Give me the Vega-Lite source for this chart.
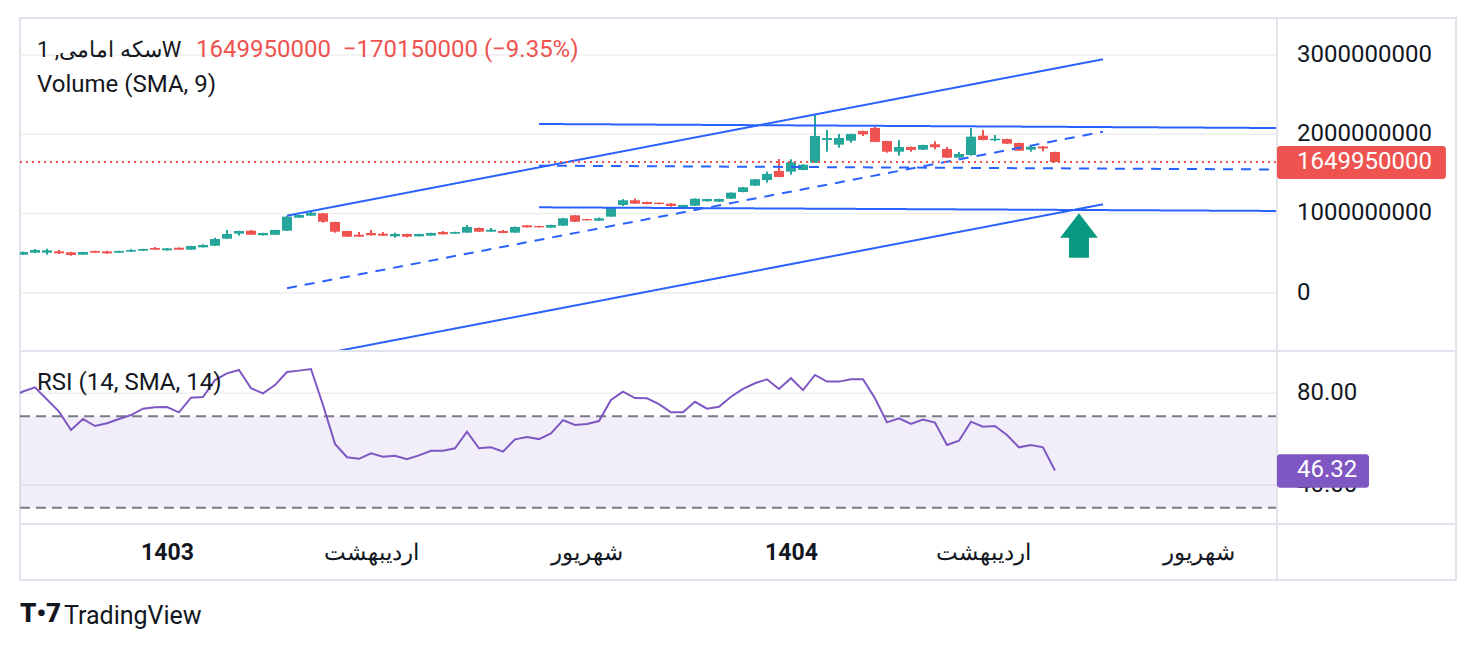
{
  "$schema": "https://vega.github.io/schema/vega-lite/v6.json",
  "background": "white",
  "padding": {"left": 18, "top": 16, "right": 20, "bottom": 20},
  "title": {"text": "TradingView", "orient": "bottom", "anchor": "start", "dx": 46, "offset": -24, "fontSize": 25, "fontWeight": "normal", "color": "#131722", "font": "Roboto"},
  "spacing": 0,
  "bounds": "flush",
  "resolve": {"scale": {"x": "independent", "y": "independent"}},
  "datasets": {
    "priceTicks": [{"v": 0}, {"v": 1000000000}, {"v": 2000000000}, {"v": 3000000000}],
    "rsiTicks": [{"v": 40}, {"v": 80}],
    "candles": [
      {"w":-12,"o":480000000,"h":520000000,"l":476000000,"c":514000000},
      {"w":-11,"o":505000000,"h":552000000,"l":500000000,"c":539000000},
      {"w":-10,"o":505000000,"h":555000000,"l":480000000,"c":535000000},
      {"w":-9,"o":522000000,"h":539000000,"l":489000000,"c":497000000},
      {"w":-8,"o":510000000,"h":515000000,"l":467000000,"c":476000000},
      {"w":-7,"o":480000000,"h":516000000,"l":478000000,"c":514000000},
      {"w":-6,"o":527000000,"h":530000000,"l":503000000,"c":505000000},
      {"w":-5,"o":522000000,"h":530000000,"l":489000000,"c":497000000},
      {"w":-4,"o":505000000,"h":530000000,"l":503000000,"c":527000000},
      {"w":-3,"o":518000000,"h":552000000,"l":516000000,"c":539000000},
      {"w":-2,"o":530000000,"h":555000000,"l":528000000,"c":552000000},
      {"w":-1,"o":564000000,"h":577000000,"l":541000000,"c":543000000},
      {"w":0,"o":535000000,"h":564000000,"l":532000000,"c":560000000},
      {"w":1,"o":568000000,"h":570000000,"l":541000000,"c":543000000},
      {"w":2,"o":543000000,"h":592000000,"l":541000000,"c":590000000},
      {"w":3,"o":573000000,"h":611000000,"l":571000000,"c":602000000},
      {"w":4,"o":593000000,"h":694000000,"l":590000000,"c":678000000},
      {"w":5,"o":682000000,"h":792000000,"l":680000000,"c":741000000},
      {"w":6,"o":745000000,"h":782000000,"l":720000000,"c":779000000},
      {"w":7,"o":783000000,"h":792000000,"l":730000000,"c":732000000},
      {"w":8,"o":725000000,"h":757000000,"l":722000000,"c":754000000},
      {"w":9,"o":732000000,"h":795000000,"l":730000000,"c":792000000},
      {"w":10,"o":783000000,"h":965000000,"l":780000000,"c":960000000},
      {"w":11,"o":947000000,"h":985000000,"l":945000000,"c":981000000},
      {"w":12,"o":972000000,"h":1023000000,"l":970000000,"c":1010000000},
      {"w":13,"o":1002000000,"h":1005000000,"l":884000000,"c":896000000},
      {"w":14,"o":893000000,"h":895000000,"l":758000000,"c":770000000},
      {"w":15,"o":779000000,"h":782000000,"l":705000000,"c":707000000},
      {"w":16,"o":732000000,"h":766000000,"l":705000000,"c":707000000},
      {"w":17,"o":754000000,"h":792000000,"l":722000000,"c":725000000},
      {"w":18,"o":745000000,"h":766000000,"l":718000000,"c":720000000},
      {"w":19,"o":712000000,"h":758000000,"l":694000000,"c":741000000},
      {"w":20,"o":741000000,"h":745000000,"l":699000000,"c":707000000},
      {"w":21,"o":712000000,"h":745000000,"l":710000000,"c":741000000},
      {"w":22,"o":720000000,"h":757000000,"l":718000000,"c":754000000},
      {"w":23,"o":766000000,"h":779000000,"l":735000000,"c":737000000},
      {"w":24,"o":745000000,"h":770000000,"l":743000000,"c":766000000},
      {"w":25,"o":758000000,"h":855000000,"l":756000000,"c":830000000},
      {"w":26,"o":817000000,"h":822000000,"l":768000000,"c":770000000},
      {"w":27,"o":770000000,"h":817000000,"l":768000000,"c":795000000},
      {"w":28,"o":779000000,"h":792000000,"l":752000000,"c":754000000},
      {"w":29,"o":758000000,"h":835000000,"l":756000000,"c":830000000},
      {"w":30,"o":851000000,"h":855000000,"l":822000000,"c":826000000},
      {"w":31,"o":842000000,"h":845000000,"l":822000000,"c":826000000},
      {"w":32,"o":821000000,"h":858000000,"l":819000000,"c":855000000},
      {"w":33,"o":846000000,"h":945000000,"l":843000000,"c":939000000},
      {"w":34,"o":977000000,"h":980000000,"l":893000000,"c":896000000},
      {"w":35,"o":930000000,"h":932000000,"l":912000000,"c":914000000},
      {"w":36,"o":909000000,"h":950000000,"l":905000000,"c":939000000},
      {"w":37,"o":960000000,"h":1072000000,"l":958000000,"c":1069000000},
      {"w":38,"o":1107000000,"h":1181000000,"l":1094000000,"c":1167000000},
      {"w":39,"o":1167000000,"h":1189000000,"l":1120000000,"c":1124000000},
      {"w":40,"o":1145000000,"h":1150000000,"l":1117000000,"c":1120000000},
      {"w":41,"o":1136000000,"h":1140000000,"l":1115000000,"c":1120000000},
      {"w":42,"o":1124000000,"h":1132000000,"l":1086000000,"c":1095000000},
      {"w":43,"o":1078000000,"h":1110000000,"l":1075000000,"c":1107000000},
      {"w":44,"o":1098000000,"h":1190000000,"l":1095000000,"c":1187000000},
      {"w":45,"o":1154000000,"h":1186000000,"l":1151000000,"c":1183000000},
      {"w":46,"o":1149000000,"h":1186000000,"l":1146000000,"c":1183000000},
      {"w":47,"o":1187000000,"h":1266000000,"l":1184000000,"c":1263000000},
      {"w":48,"o":1271000000,"h":1335000000,"l":1268000000,"c":1331000000},
      {"w":49,"o":1351000000,"h":1436000000,"l":1348000000,"c":1432000000},
      {"w":50,"o":1423000000,"h":1528000000,"l":1389000000,"c":1499000000},
      {"w":51,"o":1537000000,"h":1688000000,"l":1458000000,"c":1461000000},
      {"w":52,"o":1528000000,"h":1684000000,"l":1490000000,"c":1646000000},
      {"w":53,"o":1549000000,"h":1625000000,"l":1545000000,"c":1616000000},
      {"w":54,"o":1641000000,"h":2244000000,"l":1638000000,"c":1979000000},
      {"w":55,"o":1928000000,"h":2054000000,"l":1780000000,"c":1953000000},
      {"w":56,"o":1869000000,"h":2004000000,"l":1831000000,"c":1953000000},
      {"w":57,"o":1919000000,"h":2008000000,"l":1894000000,"c":2004000000},
      {"w":58,"o":2042000000,"h":2046000000,"l":1978000000,"c":2000000000},
      {"w":59,"o":2080000000,"h":2096000000,"l":1900000000,"c":1903000000},
      {"w":60,"o":1915000000,"h":1918000000,"l":1768000000,"c":1780000000},
      {"w":61,"o":1780000000,"h":1928000000,"l":1730000000,"c":1840000000},
      {"w":62,"o":1840000000,"h":1845000000,"l":1780000000,"c":1802000000},
      {"w":63,"o":1806000000,"h":1869000000,"l":1802000000,"c":1865000000},
      {"w":64,"o":1874000000,"h":1912000000,"l":1810000000,"c":1836000000},
      {"w":65,"o":1814000000,"h":1840000000,"l":1700000000,"c":1705000000},
      {"w":66,"o":1705000000,"h":1776000000,"l":1700000000,"c":1751000000},
      {"w":67,"o":1738000000,"h":2080000000,"l":1730000000,"c":1970000000},
      {"w":68,"o":1982000000,"h":2054000000,"l":1924000000,"c":1928000000},
      {"w":69,"o":1924000000,"h":1991000000,"l":1912000000,"c":1944000000},
      {"w":70,"o":1940000000,"h":1944000000,"l":1878000000,"c":1881000000},
      {"w":71,"o":1890000000,"h":1894000000,"l":1790000000,"c":1793000000},
      {"w":72,"o":1806000000,"h":1865000000,"l":1780000000,"c":1843000000},
      {"w":73,"o":1845000000,"h":1850000000,"l":1785000000,"c":1820100000},
      {"w":74,"o":1776000000,"h":1780000000,"l":1645000000,"c":1649950000}
    ],
    "rsi": [
      {"w":-13,"r":78.5},{"w":-12,"r":80.8},{"w":-11,"r":82.6},{"w":-10,"r":77.3},{"w":-9,"r":72.0},
      {"w":-8,"r":64.0},{"w":-7,"r":68.8},{"w":-6,"r":65.7},{"w":-5,"r":66.9},{"w":-4,"r":68.8},
      {"w":-3,"r":70.5},{"w":-2,"r":73.3},{"w":-1,"r":73.9},{"w":0,"r":74.0},{"w":1,"r":71.7},
      {"w":2,"r":78.1},{"w":3,"r":78.4},{"w":4,"r":85.8},{"w":5,"r":88.7},{"w":6,"r":90.2},
      {"w":7,"r":82.2},{"w":8,"r":80.0},{"w":9,"r":83.6},{"w":10,"r":89.3},{"w":11,"r":89.9},
      {"w":12,"r":90.6},{"w":13,"r":74.9},{"w":14,"r":57.9},{"w":15,"r":52.1},{"w":16,"r":51.4},
      {"w":17,"r":53.8},{"w":18,"r":52.3},{"w":19,"r":52.7},{"w":20,"r":51.2},{"w":21,"r":52.9},
      {"w":22,"r":54.9},{"w":23,"r":54.9},{"w":24,"r":56.0},{"w":25,"r":63.2},{"w":26,"r":56.0},
      {"w":27,"r":56.4},{"w":28,"r":54.5},{"w":29,"r":59.9},{"w":30,"r":60.9},{"w":31,"r":60.0},
      {"w":32,"r":62.5},{"w":33,"r":68.3},{"w":34,"r":66.2},{"w":35,"r":66.6},{"w":36,"r":67.9},
      {"w":37,"r":77.1},{"w":38,"r":80.7},{"w":39,"r":77.9},{"w":40,"r":77.8},{"w":41,"r":75.3},
      {"w":42,"r":71.7},{"w":43,"r":71.7},{"w":44,"r":76.3},{"w":45,"r":73.3},{"w":46,"r":74.1},
      {"w":47,"r":78.5},{"w":48,"r":81.9},{"w":49,"r":84.4},{"w":50,"r":86.1},{"w":51,"r":81.9},
      {"w":52,"r":86.6},{"w":53,"r":81.4},{"w":54,"r":88.0},{"w":55,"r":85.1},{"w":56,"r":85.1},
      {"w":57,"r":86.1},{"w":58,"r":86.1},{"w":59,"r":77.8},{"w":60,"r":67.3},{"w":61,"r":69.1},
      {"w":62,"r":66.6},{"w":63,"r":68.5},{"w":64,"r":67.2},{"w":65,"r":57.4},{"w":66,"r":59.3},
      {"w":67,"r":67.6},{"w":68,"r":65.4},{"w":69,"r":65.7},{"w":70,"r":61.8},{"w":71,"r":56.4},
      {"w":72,"r":57.4},{"w":73,"r":56.4},{"w":74,"r":46.32}
    ],
    "channels": [
      {"id":"A","kind":"edge","w":10,"p":972000000},{"id":"A","kind":"edge","w":78,"p":2947000000},
      {"id":"E","kind":"median","w":10,"p":56500000},{"id":"E","kind":"median","w":78,"p":2031500000},
      {"id":"F","kind":"edge","w":10,"p":-859000000},{"id":"F","kind":"edge","w":78,"p":1116000000},
      {"id":"B","kind":"edge","w":31,"p":2130000000},{"id":"B","kind":"edge","w":92.5,"p":2079000000},
      {"id":"D","kind":"median","w":31,"p":1604000000},{"id":"D","kind":"median","w":92.5,"p":1555500000},
      {"id":"C","kind":"edge","w":31,"p":1078000000},{"id":"C","kind":"edge","w":92.5,"p":1032000000}
    ]
  },
  "vconcat": [
    {
      "width": 1436,
      "height": 333,
      "layer": [
        {
          "data": {"name": "priceTicks"},
          "mark": {"type": "rule", "color": "#eeeeee", "strokeWidth": 1.5},
          "encoding": {
            "x": {"datum": -12.25, "type": "quantitative",
                  "scale": {"domain": [-12.25, 107.42], "nice": false, "zero": false, "padding": 0},
                  "axis": {"values": [0, 17, 35, 52, 68, 86], "grid": true, "gridColor": "#eeeeee", "gridWidth": 1.5,
                           "labels": false, "ticks": false, "domain": false, "title": null, "minExtent": 0}},
            "x2": {"datum": 92.5},
            "y": {"field": "v", "type": "quantitative",
                  "scale": {"domain": [-736000000, 3468000000], "nice": false, "zero": false, "padding": 0},
                  "axis": null}
          }
        },
        {
          "data": {"name": "priceTicks"},
          "mark": {"type": "text", "align": "left", "baseline": "middle", "color": "#131722", "fontSize": 24, "font": "Roboto"},
          "encoding": {
            "x": {"datum": 94.17, "axis": null},
            "y": {"field": "v", "type": "quantitative", "axis": null},
            "text": {"field": "v", "type": "quantitative", "format": "d"}
          }
        },
        {
          "data": {"name": "candles"},
          "mark": {"type": "rule", "strokeWidth": 2, "clip": true},
          "encoding": {
            "x": {"field": "w", "type": "quantitative", "axis": null},
            "y": {"field": "l", "type": "quantitative", "axis": null},
            "y2": {"field": "h"},
            "color": {"condition": {"test": "datum.c >= datum.o", "value": "#26a69a"}, "value": "#ef5350"}
          }
        },
        {
          "data": {"name": "candles"},
          "mark": {"type": "bar", "width": 10, "orient": "vertical", "clip": true},
          "encoding": {
            "x": {"field": "w", "type": "quantitative", "axis": null},
            "y": {"field": "o", "type": "quantitative", "axis": null},
            "y2": {"field": "c"},
            "color": {"condition": {"test": "datum.c >= datum.o", "value": "#26a69a"}, "value": "#ef5350"}
          }
        },
        {
          "data": {"name": "channels"},
          "mark": {"type": "line", "clip": true, "strokeWidth": 2, "color": "#2962ff"},
          "encoding": {
            "x": {"field": "w", "type": "quantitative", "axis": null},
            "y": {"field": "p", "type": "quantitative", "axis": null},
            "detail": {"field": "id"},
            "strokeDash": {"field": "kind", "type": "nominal", "legend": null,
                           "scale": {"domain": ["edge", "median"], "range": [[1, 0], [10, 8]]}}
          }
        },
        {
          "data": {"values": [{"close": 1649950000}]},
          "mark": {"type": "rule", "color": "#ef5350", "strokeWidth": 2, "strokeDash": [2, 4]},
          "encoding": {
            "x": {"datum": -12.25, "axis": null},
            "x2": {"datum": 92.5},
            "y": {"field": "close", "type": "quantitative", "axis": null}
          }
        },
        {
          "data": {"values": [{}]},
          "mark": {"type": "rule", "color": "#e0e3eb", "strokeWidth": 2},
          "encoding": {"x": {"datum": 92.5, "axis": null}}
        },
        {
          "data": {"values": [{}]},
          "mark": {"type": "rect", "color": "#ef5350", "cornerRadius": 3},
          "encoding": {
            "x": {"datum": 92.5, "axis": null},
            "x2": {"datum": 106.58},
            "y": {"datum": 1435600000, "axis": null},
            "y2": {"datum": 1852000000}
          }
        },
        {
          "data": {"values": [{"close": 1649950000}]},
          "mark": {"type": "text", "align": "left", "baseline": "middle", "color": "white", "fontSize": 24, "font": "Roboto"},
          "encoding": {
            "x": {"datum": 94.17, "axis": null},
            "y": {"field": "close", "type": "quantitative", "axis": null},
            "text": {"field": "close", "type": "quantitative", "format": "d"}
          }
        },
        {
          "data": {"values": [{"label": "سکه امامی, 1W"}]},
          "mark": {"type": "text", "align": "left", "baseline": "middle", "color": "#131722", "fontSize": 22, "font": "Roboto"},
          "encoding": {
            "x": {"datum": -10.83, "axis": null},
            "y": {"datum": 3064000000, "axis": null},
            "text": {"field": "label"}
          }
        },
        {
          "data": {"values": [{"label": "1649950000\u00a0\u00a0−170150000 (−9.35%)"}]},
          "mark": {"type": "text", "align": "left", "baseline": "middle", "color": "#ef5350", "fontSize": 24, "font": "Roboto"},
          "encoding": {
            "x": {"datum": 2.42, "axis": null},
            "y": {"datum": 3064000000, "axis": null},
            "text": {"field": "label"}
          }
        },
        {
          "data": {"values": [{"label": "Volume (SMA, 9)"}]},
          "mark": {"type": "text", "align": "left", "baseline": "middle", "color": "#131722", "fontSize": 24, "font": "Roboto"},
          "encoding": {
            "x": {"datum": -10.83, "axis": null},
            "y": {"datum": 2622000000, "axis": null},
            "text": {"field": "label"}
          }
        },
        {
          "data": {"values": [{}]},
          "mark": {"type": "point", "shape": "M0,-1L0.85,0.1L0.45,0.1L0.45,1L-0.45,1L-0.45,0.1L-0.85,0.1Z", "size": 1971, "filled": true, "color": "#089981", "opacity": 1, "strokeWidth": 0},
          "encoding": {
            "x": {"datum": 76, "axis": null},
            "y": {"datum": 722000000, "axis": null}
          }
        }
      ]
    },
    {
      "width": 1436,
      "height": 173,
      "layer": [
        {
          "data": {"name": "rsiTicks"},
          "mark": {"type": "rule", "color": "#eeeeee", "strokeWidth": 1.5},
          "encoding": {
            "x": {"datum": -12.25, "type": "quantitative",
                  "scale": {"domain": [-12.25, 107.42], "nice": false, "zero": false, "padding": 0},
                  "axis": {"values": [0, 17, 35, 52, 68, 86], "grid": true, "gridColor": "#eeeeee", "gridWidth": 1.5,
                           "labels": false, "ticks": false, "domain": false, "title": null, "minExtent": 0}},
            "x2": {"datum": 92.5},
            "y": {"field": "v", "type": "quantitative",
                  "scale": {"domain": [22.93, 98.47], "nice": false, "zero": false, "padding": 0},
                  "axis": null}
          }
        },
        {
          "data": {"name": "rsiTicks"},
          "mark": {"type": "text", "align": "left", "baseline": "middle", "color": "#131722", "fontSize": 24, "font": "Roboto"},
          "encoding": {
            "x": {"datum": 94.17, "axis": null},
            "y": {"field": "v", "type": "quantitative", "axis": null},
            "text": {"field": "v", "type": "quantitative", "format": ".2f"}
          }
        },
        {
          "data": {"values": [{}]},
          "mark": {"type": "rect", "color": "#7e57c2", "opacity": 0.1},
          "encoding": {
            "x": {"datum": -12.25, "axis": null},
            "x2": {"datum": 92.5},
            "y": {"datum": 30, "axis": null},
            "y2": {"datum": 70}
          }
        },
        {
          "data": {"values": [{"v": 30}, {"v": 70}]},
          "mark": {"type": "rule", "color": "#787b86", "strokeWidth": 2, "strokeDash": [10, 6]},
          "encoding": {
            "x": {"datum": -12.25, "axis": null},
            "x2": {"datum": 92.5},
            "y": {"field": "v", "type": "quantitative", "axis": null}
          }
        },
        {
          "data": {"name": "rsi"},
          "mark": {"type": "line", "clip": true, "strokeWidth": 2, "color": "#7e57c2"},
          "encoding": {
            "x": {"field": "w", "type": "quantitative", "axis": null},
            "y": {"field": "r", "type": "quantitative", "axis": null}
          }
        },
        {
          "data": {"values": [{"label": "RSI (14, SMA, 14)"}]},
          "mark": {"type": "text", "align": "left", "baseline": "middle", "color": "#131722", "fontSize": 24, "font": "Roboto"},
          "encoding": {
            "x": {"datum": -10.83, "axis": null},
            "y": {"datum": 84.5, "axis": null},
            "text": {"field": "label"}
          }
        },
        {
          "data": {"values": [{}]},
          "mark": {"type": "rule", "color": "#e0e3eb", "strokeWidth": 2},
          "encoding": {"x": {"datum": 92.5, "axis": null}}
        },
        {
          "data": {"values": [{}]},
          "mark": {"type": "rect", "color": "#7e57c2", "cornerRadius": 3},
          "encoding": {
            "x": {"datum": 92.5, "axis": null},
            "x2": {"datum": 100.17},
            "y": {"datum": 38.78, "axis": null},
            "y2": {"datum": 53.36}
          }
        },
        {
          "data": {"values": [{"last": 46.32}]},
          "mark": {"type": "text", "align": "left", "baseline": "middle", "color": "white", "fontSize": 24, "font": "Roboto"},
          "encoding": {
            "x": {"datum": 94.17, "axis": null},
            "y": {"field": "last", "type": "quantitative", "axis": null},
            "text": {"field": "last", "type": "quantitative", "format": ".2f"}
          }
        }
      ]
    },
    {
      "width": 1436,
      "height": 56,
      "title": {"text": "T•7", "orient": "bottom", "anchor": "start", "offset": 20, "fontSize": 26, "fontWeight": 900, "color": "#131722", "font": "Roboto"},
      "data": {"values": [{}]},
      "mark": {"type": "rule", "color": "#e0e3eb", "strokeWidth": 2},
      "encoding": {
        "x": {"datum": 92.5, "type": "quantitative",
              "scale": {"domain": [-12.25, 107.42], "nice": false, "zero": false, "padding": 0},
              "axis": {"values": [0, 17, 35, 52, 68, 86],
                       "labelExpr": "datum.value == 0 ? '1403' : datum.value == 52 ? '1404' : (datum.value == 17 || datum.value == 68) ? 'اردیبهشت' : 'شهریور'",
                       "labelFontWeight": {"condition": {"test": "datum.value == 0 || datum.value == 52", "value": "bold"}, "value": "normal"},
                       "offset": -28, "labelPadding": 0, "labelBaseline": "middle", "labelAlign": "center",
                       "ticks": false, "domain": false, "grid": false, "title": null,
                       "labelFlush": false, "labelOverlap": false, "minExtent": 0}}
      }
    }
  ],
  "config": {
    "font": "Roboto",
    "view": {"stroke": "#e0e3eb", "strokeWidth": 2},
    "axis": {"labelFont": "Roboto", "labelFontSize": 23, "labelColor": "#131722"}
  }
}
